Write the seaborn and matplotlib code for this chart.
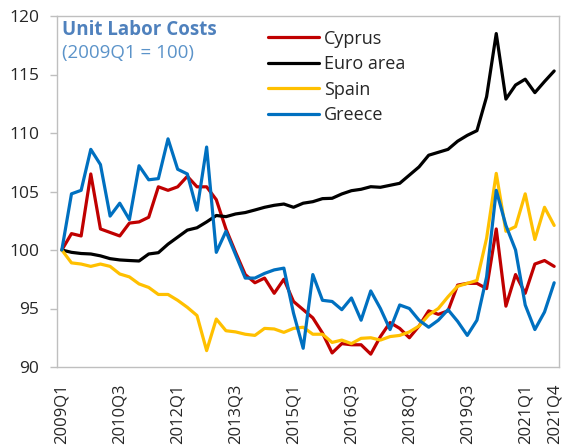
import matplotlib
matplotlib.use("Agg")
import matplotlib.pyplot as plt
import seaborn as sns
import pandas as pd

quarters = [f"{y}Q{q}" for y in range(2009, 2022) for q in range(1, 5)]

cyprus = [100, 101.4, 101.2, 106.5, 101.8, 101.5, 101.2, 102.3, 102.4, 102.8, 105.4, 105.1, 105.4, 106.3, 105.4, 105.4,
          104.3, 101.8, 99.8, 97.9, 97.2, 97.6, 96.3, 97.5, 95.6, 94.9, 94.2, 92.9, 91.2, 92.0, 91.9, 91.9, 91.1, 92.6, 93.8,
          93.3, 92.5, 93.5, 94.8, 94.5, 94.8, 97.0, 97.15, 97.15, 96.7, 101.8, 95.2, 97.9, 96.3, 98.8, 99.1, 98.6]
euro_area = [100, 99.8, 99.7, 99.66, 99.5, 99.26, 99.15, 99.1, 99.06, 99.66, 99.77, 100.5, 101.1, 101.7, 101.9, 102.4,
             102.95, 102.85, 103.08, 103.2, 103.42, 103.65, 103.82, 103.93, 103.65, 104.0, 104.13, 104.39, 104.42, 104.79,
             105.07, 105.19, 105.41, 105.36, 105.53,
             105.7, 106.4, 107.1, 108.1, 108.35, 108.6, 109.3, 109.8, 110.2, 113.1, 118.5, 112.9, 114.1, 114.6, 113.45,
             114.4, 115.3]
spain = [100, 98.9, 98.8, 98.6, 98.8, 98.6, 97.95, 97.7, 97.1, 96.8, 96.2, 96.2, 95.7, 95.1, 94.4, 91.4,
         94.1, 93.1, 93.0, 92.8, 92.7, 93.3, 93.25, 92.96, 93.3, 93.4, 92.8, 92.8, 92.1, 92.3, 92.0, 92.45, 92.5, 92.3, 92.6,
         92.7, 93.0, 93.5, 94.45, 95.0, 96.0, 96.9, 97.15, 97.4, 101.0, 106.55, 101.6, 102.0, 104.8, 100.9, 103.65, 102.1]
greece = [100, 104.8, 105.1, 108.6, 107.3, 102.9, 104.0, 102.6, 107.2, 106.0, 106.1, 109.5, 106.9, 106.5, 103.4, 108.8,
          99.8, 101.6, 99.6, 97.6, 97.6, 98.0, 98.3, 98.45, 94.6, 91.6, 97.9, 95.7, 95.6, 94.9, 95.9, 94.0, 96.5, 95.0, 93.2,
          95.3, 95.0, 94.0, 93.4, 94.0, 94.9, 93.9, 92.7, 94.0, 97.7, 105.1, 102.1, 100.0, 95.3, 93.2, 94.7, 97.2]

series_names = ["Cyprus", "Euro area", "Spain", "Greece"]
colors = {"Cyprus": "#C00000", "Euro area": "#000000", "Spain": "#FFC000", "Greece": "#0070C0"}
tick_labels = ["2009Q1", "2010Q3", "2012Q1", "2013Q3", "2015Q1", "2016Q3", "2018Q1", "2019Q3", "2021Q1", "2021Q4"]
y_ticks = [90, 95, 100, 105, 110, 115, 120]

rows = []
for name, vals in zip(series_names, [cyprus, euro_area, spain, greece]):
    for i, v in enumerate(vals):
        rows.append({"idx": i, "quarter": quarters[i], "value": v, "country": name})
df = pd.DataFrame(rows)

sns.set_style("white")
plt.rcParams["font.family"] = ["Open Sans", "DejaVu Sans"]

fig = plt.figure(figsize=(5.65, 4.45), dpi=100)
ax = fig.add_axes([57 / 565, (445 - 367) / 445, (559 - 57) / 565, (367 - 16) / 445])

sns.lineplot(data=df, x="idx", y="value", hue="country", hue_order=series_names,
             palette=colors, linewidth=2.3, ax=ax, legend=False)

ax.set_xlim(-0.5, len(quarters) - 0.5)
ax.set_ylim(90, 120)
ax.set_yticks(y_ticks)
ax.set_yticklabels([str(t) for t in y_ticks], fontsize=12.5)
ax.set_xticks([quarters.index(t) for t in tick_labels])
ax.set_xticklabels(tick_labels, rotation=90, fontsize=12, va="top", ha="center")
ax.tick_params(axis="x", length=0, pad=12)
ax.tick_params(axis="y", length=5, width=1, color="#BFBFBF", pad=8, direction="out", left=True)
ax.set_xlabel("")
ax.set_ylabel("")
for s in ax.spines.values():
    s.set_color("#BFBFBF")
    s.set_linewidth(1)
    s.set_visible(True)

ax.text(0.01, 0.988, "Unit Labor Costs", transform=ax.transAxes, fontsize=13.5, fontweight="bold",
        color="#4F81BD", va="top", ha="left")
ax.text(0.01, 0.92, "(2009Q1 = 100)", transform=ax.transAxes, fontsize=13.5,
        color="#5B93C9", va="top", ha="left")

handles = [plt.Line2D([], [], color=colors[n], linewidth=2.3) for n in series_names]
leg = fig.legend(handles, series_names, loc="upper left", bbox_to_anchor=(268 / 565, 1 - 29.5 / 445),
                 frameon=False, fontsize=13, handlelength=2.8, handletextpad=0.3, labelspacing=0.42,
                 borderpad=0, borderaxespad=0)

fig.savefig("out.png", dpi=100)
